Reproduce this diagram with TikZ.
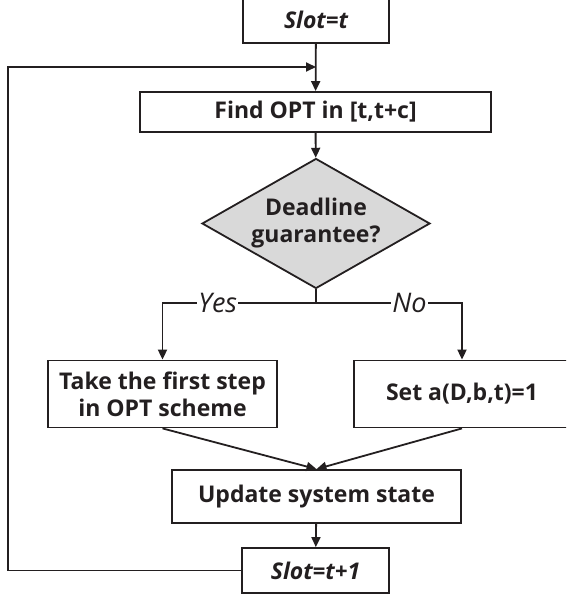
\documentclass[tikz,border=0pt]{standalone}
\usepackage{fontspec}
\setmainfont{Open Sans}
\usetikzlibrary{shapes.geometric,arrows.meta}
\definecolor{ink}{RGB}{35,31,32}
\definecolor{dfill}{RGB}{217,217,217}
\tikzset{
  x=1pt,y=-1pt,
  box/.style={draw=ink,line width=1.8pt,rectangle,inner sep=0pt,align=center,
    font=\fontsize{23}{27}\selectfont\bfseries,text=ink},
  slotbox/.style={box,font=\fontsize{23}{27}\selectfont\bfseries\itshape},
  decision/.style={draw=ink,line width=1.8pt,diamond,aspect=1.75,fill=dfill,inner sep=0pt,align=center,
    font=\fontsize{23}{27}\selectfont\bfseries,text=ink},
  conn/.style={draw=ink,line width=1.8pt},
  arr/.style={conn,-{Triangle[length=10pt,width=9pt]}},
  lab/.style={fill=white,inner sep=1pt,font=\fontsize{27}{30}\selectfont\itshape,text=ink},
}
\begin{document}
\begin{tikzpicture}
\path[use as bounding box] (0,0) rectangle (566,596);
\begin{scope}
\clip (0,0) rectangle (566,596);
\node[slotbox,minimum width=146pt,minimum height=46pt] (s0) at (316,20) {Slot=t};
\node[box,minimum width=351pt,minimum height=40pt] (find) at (315.5,112) {Find OPT in [t,t+c]};
\node[decision,minimum width=228pt,minimum height=130pt] (dec) at (316,223.5) {Deadline\\guarantee?};
\node[box,minimum width=229pt,minimum height=67pt] (take) at (162.5,394) {Take the first step\\in OPT scheme};
\node[box,minimum width=216pt,minimum height=67pt] (set) at (462,394) {Set a(D,b,t)=1};
\node[box,minimum width=289pt,minimum height=53pt] (upd) at (316.5,496.5) {Update system state};
\node[slotbox,minimum width=147pt,minimum height=45pt] (s1) at (315.5,570.5) {Slot=t+1};
\coordinate (split) at (316,303);
\coordinate (merge) at (316,67);
\coordinate (corner) at (8,570.5);
\draw[arr] (s0) -- (find);
\draw[arr] (find) -- (dec);
\draw[conn] (dec.south) -- (split);
\draw[arr] (split) -| node[lab,pos=0.32] {Yes} (take.north);
\draw[arr] (split) -| node[lab,pos=0.32] {No} (set.north);
\draw[arr] (take.south) -- (upd.north);
\draw[arr] (set.south) -- (upd.north);
\draw[arr] (upd) -- (s1);
\draw[arr] (s1.west) -- (corner) |- (merge);
\end{scope}
\end{tikzpicture}
\end{document}
